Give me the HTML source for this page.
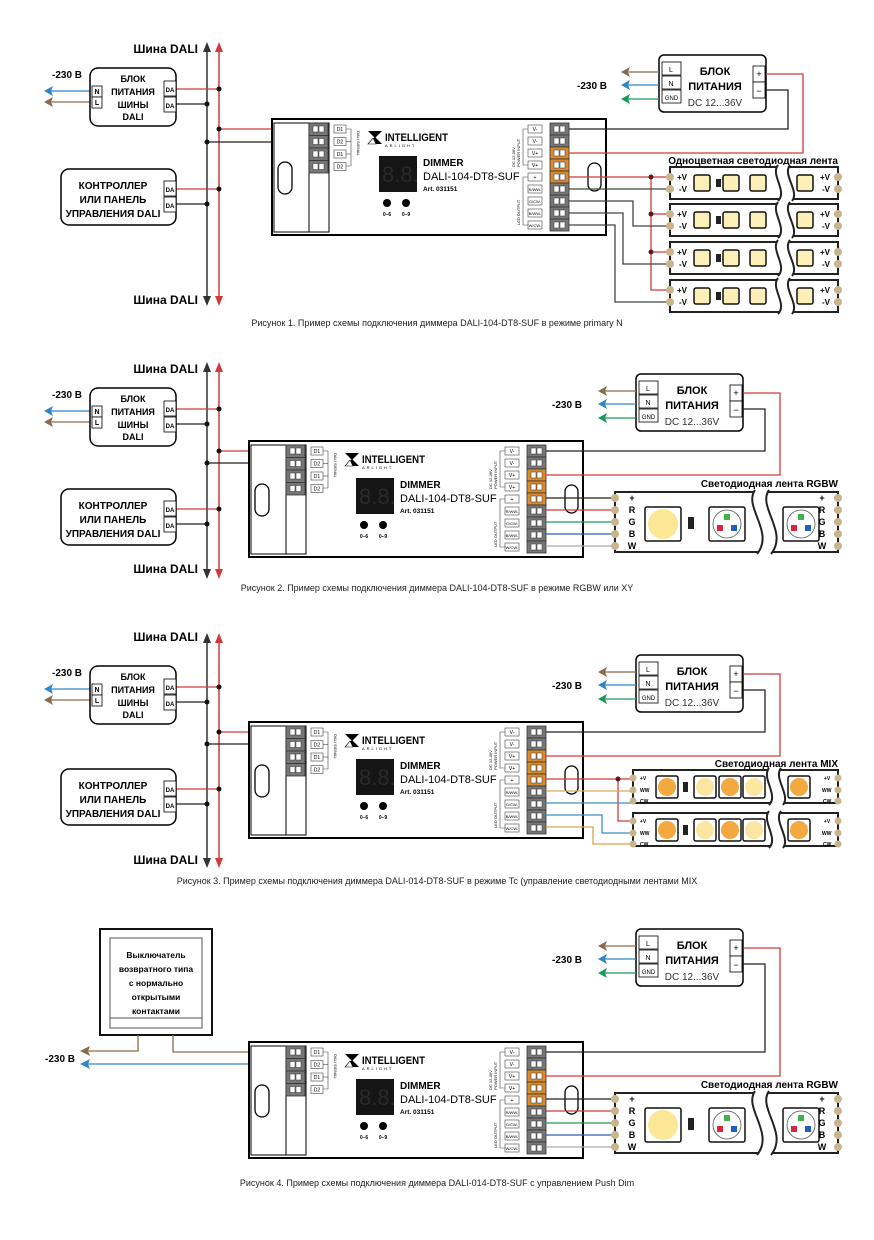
<!DOCTYPE html>
<html><head><meta charset="utf-8"><style>
html,body{margin:0;padding:0;background:#fff}
svg{display:block}
text{font-family:"Liberation Sans",sans-serif}
.b{font-weight:bold}
.t{font-size:5px}
</style></head><body>
<svg width="874" height="1240" viewBox="0 0 874 1240" xmlns="http://www.w3.org/2000/svg">
<defs>
<g id="dim">
<rect x="0" y="0" width="334" height="116" fill="#fff" stroke="#000" stroke-width="2"/>
<rect x="2" y="4" width="55" height="109" fill="none" stroke="#000" stroke-width="1"/>
<line x1="37" y1="4" x2="37" y2="113" stroke="#000"/>
<rect x="6" y="43" width="14" height="32" rx="7" fill="none" stroke="#000" stroke-width="1.3"/>
<rect x="316" y="44" width="13" height="28" rx="6.5" fill="none" stroke="#000" stroke-width="1.3"/>
<g fill="#777" stroke="#333" stroke-width="0.8">
<rect x="37" y="4" width="19" height="12.5"/><rect x="37" y="16.5" width="19" height="12.5"/><rect x="37" y="29" width="19" height="12.5"/><rect x="37" y="41.5" width="19" height="12.5"/>
</g>
<g fill="#fff" stroke="#333" stroke-width="0.5">
<rect x="41" y="7" width="5" height="6"/><rect x="47" y="7" width="5" height="6"/>
<rect x="41" y="19.5" width="5" height="6"/><rect x="47" y="19.5" width="5" height="6"/>
<rect x="41" y="32" width="5" height="6"/><rect x="47" y="32" width="5" height="6"/>
<rect x="41" y="44.5" width="5" height="6"/><rect x="47" y="44.5" width="5" height="6"/>
</g>
<g fill="#fff" stroke="#444" stroke-width="0.6">
<rect x="62" y="6" width="12" height="8"/><rect x="62" y="18.5" width="12" height="8"/><rect x="62" y="31" width="12" height="8"/><rect x="62" y="43.5" width="12" height="8"/>
</g>
<polyline points="74,10 79,10 79,47 74,47" fill="none" stroke="#444" stroke-width="0.6"/>
<line x1="74" y1="22.5" x2="79" y2="22.5" stroke="#444" stroke-width="0.6"/>
<line x1="74" y1="35" x2="79" y2="35" stroke="#444" stroke-width="0.6"/>
<polygon points="96,12 110,12 103,19" fill="#000"/>
<polygon points="96,25 110,25 103,18" fill="#000"/>
<polygon points="96,25 101,19 104,25" fill="#fff" stroke="#000" stroke-width="0.6"/>
<rect x="107" y="37" width="38" height="36" fill="#151515"/>
<circle cx="115" cy="84" r="4" fill="#000"/><circle cx="134" cy="84" r="4" fill="#000"/>
<g stroke="#333" stroke-width="0.8">
<rect x="278" y="4" width="19" height="12" fill="#777"/><rect x="278" y="16" width="19" height="12" fill="#777"/>
<rect x="278" y="28" width="19" height="12" fill="#d98b2e"/><rect x="278" y="40" width="19" height="12" fill="#d98b2e"/><rect x="278" y="52" width="19" height="12" fill="#d98b2e"/>
<rect x="278" y="64" width="19" height="12" fill="#777"/><rect x="278" y="76" width="19" height="12" fill="#777"/><rect x="278" y="88" width="19" height="12" fill="#777"/><rect x="278" y="100" width="19" height="12" fill="#777"/>
</g>
<g fill="#fff" stroke="#333" stroke-width="0.5">
<rect x="282" y="7" width="5" height="6"/><rect x="288" y="7" width="5" height="6"/>
<rect x="282" y="19" width="5" height="6"/><rect x="288" y="19" width="5" height="6"/>
<rect x="282" y="31" width="5" height="6"/><rect x="288" y="31" width="5" height="6"/>
<rect x="282" y="43" width="5" height="6"/><rect x="288" y="43" width="5" height="6"/>
<rect x="282" y="55" width="5" height="6"/><rect x="288" y="55" width="5" height="6"/>
<rect x="282" y="67" width="5" height="6"/><rect x="288" y="67" width="5" height="6"/>
<rect x="282" y="79" width="5" height="6"/><rect x="288" y="79" width="5" height="6"/>
<rect x="282" y="91" width="5" height="6"/><rect x="288" y="91" width="5" height="6"/>
<rect x="282" y="103" width="5" height="6"/><rect x="288" y="103" width="5" height="6"/>
</g>
<g fill="#fff" stroke="#444" stroke-width="0.6">
<rect x="256" y="6" width="14" height="8"/><rect x="256" y="18" width="14" height="8"/><rect x="256" y="30" width="14" height="8"/><rect x="256" y="42" width="14" height="8"/>
<rect x="256" y="54" width="14" height="8"/><rect x="256" y="66" width="14" height="8"/><rect x="256" y="78" width="14" height="8"/><rect x="256" y="90" width="14" height="8"/><rect x="256" y="102" width="14" height="8"/>
</g>
<polyline points="256,10 251,10 251,46 256,46" fill="none" stroke="#444" stroke-width="0.6"/>
<polyline points="256,58 251,58 251,106 256,106" fill="none" stroke="#444" stroke-width="0.6"/>
</g>
<g id="psu">
<rect x="0" y="0" width="107" height="57" rx="5" fill="#fff" stroke="#000" stroke-width="1.5"/>
<g fill="#fff" stroke="#000" stroke-width="0.8">
<rect x="3" y="7" width="19" height="13"/><rect x="3" y="21" width="19" height="13"/><rect x="3" y="35" width="19" height="13"/>
<rect x="94" y="11" width="12" height="16"/><rect x="94" y="27" width="12" height="16"/>
</g>
</g>
<g id="busbox">
<rect x="0" y="0" width="86" height="58" rx="8" fill="#fff" stroke="#000" stroke-width="1.5"/>
<g fill="#fff" stroke="#000" stroke-width="0.8">
<rect x="2" y="18" width="10" height="11"/><rect x="2" y="29" width="10" height="11"/>
<rect x="74" y="13" width="12" height="15"/><rect x="74" y="29" width="12" height="15"/>
</g>
</g>
<g id="ctrl">
<rect x="0" y="0" width="115" height="56" rx="8" fill="#fff" stroke="#000" stroke-width="1.5"/>
<g fill="#fff" stroke="#000" stroke-width="0.8">
<rect x="103" y="12" width="12" height="15"/><rect x="103" y="28" width="12" height="15"/>
</g>
</g>
<g id="mono">
<rect x="0" y="0" width="168" height="32" fill="#fff" stroke="#222" stroke-width="2"/>
<circle cx="0" cy="10" r="4" fill="#c9b48e"/><circle cx="0" cy="22" r="4" fill="#c9b48e"/>
<circle cx="168" cy="10" r="4" fill="#c9b48e"/><circle cx="168" cy="22" r="4" fill="#c9b48e"/>
<g fill="#fcefb8" stroke="#111" stroke-width="1.5">
<rect x="24" y="8" width="16" height="16" rx="2"/><rect x="53" y="8" width="16" height="16" rx="2"/><rect x="80" y="8" width="16" height="16" rx="2"/><rect x="127" y="8" width="16" height="16" rx="2"/>
</g>
<rect x="46" y="12" width="5" height="8" fill="#222"/>
<path d="M108,-2 C100,8 118,24 108,34 L122,34 C130,24 112,8 120,-2 Z" fill="#fff"/>
<path d="M108,-2 C100,8 118,24 108,34 M120,-2 C112,8 130,24 122,34" fill="none" stroke="#222" stroke-width="2"/>
</g>
<g id="mix">
<rect x="0" y="0" width="205" height="33" fill="#fff" stroke="#222" stroke-width="2"/>
<circle cx="0" cy="8" r="3.5" fill="#c9b48e"/><circle cx="0" cy="20" r="3.5" fill="#c9b48e"/><circle cx="0" cy="31" r="3.5" fill="#c9b48e"/>
<circle cx="205" cy="8" r="3.5" fill="#c9b48e"/><circle cx="205" cy="20" r="3.5" fill="#c9b48e"/><circle cx="205" cy="31" r="3.5" fill="#c9b48e"/>
<g fill="#fff" stroke="#111" stroke-width="1.5">
<rect x="23" y="6" width="22" height="22" rx="2"/><rect x="61" y="6" width="22" height="22" rx="2"/><rect x="86" y="6" width="22" height="22" rx="2"/><rect x="110" y="6" width="22" height="22" rx="2"/><rect x="155" y="6" width="22" height="22" rx="2"/>
</g>
<circle cx="34" cy="17" r="9" fill="#f4a940"/><circle cx="72" cy="17" r="9" fill="#fbe7a2"/><circle cx="97" cy="17" r="9" fill="#f4a940"/><circle cx="121" cy="17" r="9" fill="#fbe7a2"/><circle cx="166" cy="17" r="9" fill="#f4a940"/>
<rect x="50" y="12" width="5" height="10" fill="#222"/>
<path d="M136,-2 C128,8 146,25 136,35 L150,35 C158,25 140,8 148,-2 Z" fill="#fff"/>
<path d="M136,-2 C128,8 146,25 136,35 M148,-2 C140,8 158,25 150,35" fill="none" stroke="#222" stroke-width="2"/>
</g>
<g id="rgbw">
<rect x="0" y="0" width="223" height="60" fill="#fff" stroke="#222" stroke-width="2"/>
<g fill="#c9b48e"><circle cx="0" cy="6" r="4"/><circle cx="0" cy="18" r="4"/><circle cx="0" cy="30" r="4"/><circle cx="0" cy="42" r="4"/><circle cx="0" cy="54" r="4"/>
<circle cx="223" cy="6" r="4"/><circle cx="223" cy="18" r="4"/><circle cx="223" cy="30" r="4"/><circle cx="223" cy="42" r="4"/><circle cx="223" cy="54" r="4"/></g>
<g fill="#fff" stroke="#111" stroke-width="1.5">
<rect x="30" y="15" width="36" height="34" rx="2"/><rect x="94" y="15" width="36" height="34" rx="2"/><rect x="168" y="15" width="36" height="34" rx="2"/>
</g>
<circle cx="48" cy="32" r="15" fill="#fbe796"/>
<circle cx="112" cy="32" r="14" fill="#fff" stroke="#555" stroke-width="0.8"/>
<circle cx="186" cy="32" r="14" fill="#fff" stroke="#555" stroke-width="0.8"/>
<rect x="109" y="22" width="6" height="6" fill="#3cb44b"/><rect x="102" y="33" width="6" height="6" fill="#d7263d"/><rect x="116" y="33" width="6" height="6" fill="#1f5fbf"/>
<rect x="183" y="22" width="6" height="6" fill="#3cb44b"/><rect x="176" y="33" width="6" height="6" fill="#d7263d"/><rect x="190" y="33" width="6" height="6" fill="#1f5fbf"/>
<rect x="73" y="25" width="6" height="12" fill="#222"/>
<path d="M140,-2 C128,15 160,40 142,62 L156,62 C174,40 142,15 154,-2 Z" fill="#fff"/>
<path d="M140,-2 C128,15 160,40 142,62 M154,-2 C142,15 174,40 156,62" fill="none" stroke="#222" stroke-width="2"/>
</g>
</defs>

<!-- ============ FIGURE 1 ============ -->
<g stroke-width="1.5" fill="none">
<line x1="207" y1="46" x2="207" y2="302" stroke="#333"/>
<line x1="219" y1="46" x2="219" y2="302" stroke="#d23a3a"/>
</g>
<polygon points="207,42 203,52 211,52" fill="#333"/><polygon points="207,306 203,296 211,296" fill="#333"/>
<polygon points="219,42 215,52 223,52" fill="#d23a3a"/><polygon points="219,306 215,296 223,296" fill="#d23a3a"/>
<text x="198" y="53" text-anchor="end" class="b" font-size="12">Шина DALI</text>
<text x="198" y="304" text-anchor="end" class="b" font-size="12">Шина DALI</text>

<g fill="none" stroke-width="1.3">
<polyline points="176,89 219,89" stroke="#d23a3a"/><polyline points="176,104 207,104" stroke="#222"/>
<polyline points="176,189 219,189" stroke="#d23a3a"/><polyline points="176,204 207,204" stroke="#222"/>
<polyline points="219,129 309,129" stroke="#d23a3a"/><polyline points="207,142 309,142" stroke="#222"/>
<line x1="48" y1="91" x2="92" y2="91" stroke="#2e86c8"/><line x1="48" y1="102" x2="92" y2="102" stroke="#8a6a4a"/>
</g>
<polygon points="44,91 53,86 51,91 53,96" fill="#2e86c8"/><polygon points="44,102 53,97 51,102 53,107" fill="#8a6a4a"/>
<g fill="#111"><circle cx="219" cy="89" r="2.5"/><circle cx="207" cy="104" r="2.5"/><circle cx="219" cy="189" r="2.5"/><circle cx="207" cy="204" r="2.5"/><circle cx="219" cy="129" r="2.5"/><circle cx="207" cy="142" r="2.5"/></g>
<text x="52" y="78" class="b" font-size="10">-230 В</text>

<use href="#busbox" x="90" y="68"/>
<g transform="translate(90,68)" class="b" font-size="9" text-anchor="middle">
<text x="43" y="14">БЛОК</text><text x="43" y="27">ПИТАНИЯ</text><text x="43" y="40">ШИНЫ</text><text x="43" y="52">DALI</text>
<text x="7" y="26" font-size="7">N</text><text x="7" y="37" font-size="7">L</text>
<text x="80" y="24" font-size="6">DA</text><text x="80" y="40" font-size="6">DA</text>
</g>
<use href="#ctrl" x="61" y="169"/>
<g transform="translate(61,169)" class="b" font-size="10" text-anchor="middle">
<text x="52" y="20">КОНТРОЛЛЕР</text><text x="52" y="34">ИЛИ ПАНЕЛЬ</text><text x="52" y="48">УПРАВЛЕНИЯ DALI</text>
<text x="109" y="23" font-size="6">DA</text><text x="109" y="39" font-size="6">DA</text>
</g>

<!-- dimmer 1 -->
<use href="#dim" x="272" y="119"/>
<g transform="translate(272,119)">
<g font-size="5" text-anchor="middle"><text x="68" y="12">D1</text><text x="68" y="24.5">D2</text><text x="68" y="37">D1</text><text x="68" y="49.5">D2</text>
<text x="263" y="12">V-</text><text x="263" y="24">V-</text><text x="263" y="36">V+</text><text x="263" y="48">V+</text><text x="263" y="60">+</text><text x="263" y="72" font-size="4">R/WW-</text><text x="263" y="84" font-size="4">G/CW-</text><text x="263" y="96" font-size="4">B/WW-</text><text x="263" y="108" font-size="4">W/CW-</text></g>
<text transform="translate(85,12) rotate(90)" font-size="4">DALI SIGNAL</text>
<text transform="translate(243,48) rotate(-90)" font-size="4">DC 12-36V</text>
<text transform="translate(248,48) rotate(-90)" font-size="4">POWER INPUT</text>
<text transform="translate(248,106) rotate(-90)" font-size="4">LED OUTPUT</text>
<text x="113" y="22" class="b" font-size="11" textLength="63" lengthAdjust="spacingAndGlyphs">INTELLIGENT</text>
<text x="113" y="28" font-size="4" letter-spacing="2">ARLIGHT</text>
<text x="110" y="63" font-size="22" fill="#2a2a2a" font-family="Liberation Mono">8.8.</text>
<text x="151" y="47" class="b" font-size="10">DIMMER</text>
<text x="151" y="61" font-size="11">DALI-104-DT8-SUF</text>
<text x="151" y="72" class="b" font-size="6.5">Art. 031151</text>
<text x="115" y="97" font-size="5" text-anchor="middle" class="b">0–6</text><text x="134" y="97" font-size="5" text-anchor="middle" class="b">0–9</text>
</g>

<!-- PSU 1 -->
<use href="#psu" x="659" y="55"/>
<g transform="translate(659,55)">
<g class="b" font-size="11" text-anchor="middle"><text x="56" y="20">БЛОК</text><text x="56" y="35">ПИТАНИЯ</text></g>
<text x="56" y="51" font-size="10" text-anchor="middle" fill="#333">DC 12...36V</text>
<g font-size="7" text-anchor="middle"><text x="12" y="17">L</text><text x="12" y="31">N</text><text x="12.5" y="45" font-size="6">GND</text><text x="100" y="22" font-size="9">+</text><text x="100" y="39" font-size="9">−</text></g>
</g>
<g stroke-width="1.3"><line x1="626" y1="72" x2="659" y2="72" stroke="#8a6a4a"/><line x1="626" y1="85" x2="659" y2="85" stroke="#2e86c8"/><line x1="626" y1="99" x2="659" y2="99" stroke="#1a9a5a"/></g>
<polygon points="621,72 630,67 628,72 630,77" fill="#8a6a4a"/><polygon points="621,85 630,80 628,85 630,90" fill="#2e86c8"/><polygon points="621,99 630,94 628,99 630,104" fill="#1a9a5a"/>
<text x="577" y="89" class="b" font-size="10">-230 В</text>
<g fill="none" stroke-width="1.3">
<polyline points="766,90 788,90 788,129 569,129" stroke="#222"/>
<polyline points="766,74 803,74 803,153 569,153" stroke="#d23a3a"/>
<polyline points="569,177 670,177" stroke="#d23a3a"/>
<polyline points="651,177 651,290 670,290" stroke="#d23a3a"/>
<polyline points="651,214 670,214" stroke="#d23a3a"/><polyline points="651,252 670,252" stroke="#d23a3a"/>
<polyline points="569,189 670,189" stroke="#444"/>
<polyline points="569,201 633,201 633,226 670,226" stroke="#444"/>
<polyline points="569,213 623,213 623,264 670,264" stroke="#444"/>
<polyline points="569,225 615,225 615,302 670,302" stroke="#444"/>
</g>
<g fill="#5a1a1a"><circle cx="651" cy="177" r="2.5"/><circle cx="651" cy="214" r="2.5"/><circle cx="651" cy="252" r="2.5"/></g>
<text x="838" y="164" text-anchor="end" class="b" font-size="10">Одноцветная светодиодная лента</text>
<use href="#mono" x="670" y="167"/><use href="#mono" x="670" y="204"/><use href="#mono" x="670" y="242"/><use href="#mono" x="670" y="280"/>
<g class="b" font-size="8">
<text x="677" y="180">+V</text><text x="679" y="192">-V</text><text x="820" y="180">+V</text><text x="822" y="192">-V</text>
<text x="677" y="217">+V</text><text x="679" y="229">-V</text><text x="820" y="217">+V</text><text x="822" y="229">-V</text>
<text x="677" y="255">+V</text><text x="679" y="267">-V</text><text x="820" y="255">+V</text><text x="822" y="267">-V</text>
<text x="677" y="293">+V</text><text x="679" y="305">-V</text><text x="820" y="293">+V</text><text x="822" y="305">-V</text>
</g>
<text x="437" y="326" text-anchor="middle" font-size="9" fill="#222">Рисунок 1. Пример схемы подключения диммера DALI-104-DT8-SUF в режиме primary N</text>

<!-- ============ FIGURE 2 ============ -->
<g stroke-width="1.5"><line x1="207" y1="366" x2="207" y2="575" stroke="#333"/><line x1="219" y1="366" x2="219" y2="575" stroke="#d23a3a"/></g>
<polygon points="207,362 203,372 211,372" fill="#333"/><polygon points="207,579 203,569 211,569" fill="#333"/>
<polygon points="219,362 215,372 223,372" fill="#d23a3a"/><polygon points="219,579 215,569 223,569" fill="#d23a3a"/>
<text x="198" y="373" text-anchor="end" class="b" font-size="12">Шина DALI</text>
<text x="198" y="573" text-anchor="end" class="b" font-size="12">Шина DALI</text>
<g fill="none" stroke-width="1.3">
<polyline points="176,409 219,409" stroke="#d23a3a"/><polyline points="176,424 207,424" stroke="#222"/>
<polyline points="176,509 219,509" stroke="#d23a3a"/><polyline points="176,524 207,524" stroke="#222"/>
<polyline points="219,451 286,451" stroke="#d23a3a"/><polyline points="207,463 286,463" stroke="#222"/>
<line x1="48" y1="411" x2="92" y2="411" stroke="#2e86c8"/><line x1="48" y1="422" x2="92" y2="422" stroke="#8a6a4a"/>
</g>
<polygon points="44,411 53,406 51,411 53,416" fill="#2e86c8"/><polygon points="44,422 53,417 51,422 53,427" fill="#8a6a4a"/>
<g fill="#111"><circle cx="219" cy="409" r="2.5"/><circle cx="207" cy="424" r="2.5"/><circle cx="219" cy="509" r="2.5"/><circle cx="207" cy="524" r="2.5"/><circle cx="219" cy="451" r="2.5"/><circle cx="207" cy="463" r="2.5"/></g>
<text x="52" y="398" class="b" font-size="10">-230 В</text>
<use href="#busbox" x="90" y="388"/>
<g transform="translate(90,388)" class="b" font-size="9" text-anchor="middle">
<text x="43" y="14">БЛОК</text><text x="43" y="27">ПИТАНИЯ</text><text x="43" y="40">ШИНЫ</text><text x="43" y="52">DALI</text>
<text x="7" y="26" font-size="7">N</text><text x="7" y="37" font-size="7">L</text>
<text x="80" y="24" font-size="6">DA</text><text x="80" y="40" font-size="6">DA</text>
</g>
<use href="#ctrl" x="61" y="489"/>
<g transform="translate(61,489)" class="b" font-size="10" text-anchor="middle">
<text x="52" y="20">КОНТРОЛЛЕР</text><text x="52" y="34">ИЛИ ПАНЕЛЬ</text><text x="52" y="48">УПРАВЛЕНИЯ DALI</text>
<text x="109" y="23" font-size="6">DA</text><text x="109" y="39" font-size="6">DA</text>
</g>
<use href="#dim" x="249" y="441"/>
<g transform="translate(249,441)">
<g font-size="5" text-anchor="middle"><text x="68" y="12">D1</text><text x="68" y="24.5">D2</text><text x="68" y="37">D1</text><text x="68" y="49.5">D2</text>
<text x="263" y="12">V-</text><text x="263" y="24">V-</text><text x="263" y="36">V+</text><text x="263" y="48">V+</text><text x="263" y="60">+</text><text x="263" y="72" font-size="4">R/WW-</text><text x="263" y="84" font-size="4">G/CW-</text><text x="263" y="96" font-size="4">B/WW-</text><text x="263" y="108" font-size="4">W/CW-</text></g>
<text transform="translate(85,12) rotate(90)" font-size="4">DALI SIGNAL</text>
<text transform="translate(243,48) rotate(-90)" font-size="4">DC 12-36V</text>
<text transform="translate(248,48) rotate(-90)" font-size="4">POWER INPUT</text>
<text transform="translate(248,106) rotate(-90)" font-size="4">LED OUTPUT</text>
<text x="113" y="22" class="b" font-size="11" textLength="63" lengthAdjust="spacingAndGlyphs">INTELLIGENT</text>
<text x="113" y="28" font-size="4" letter-spacing="2">ARLIGHT</text>
<text x="110" y="63" font-size="22" fill="#2a2a2a" font-family="Liberation Mono">8.8.</text>
<text x="151" y="47" class="b" font-size="10">DIMMER</text>
<text x="151" y="61" font-size="11">DALI-104-DT8-SUF</text>
<text x="151" y="72" class="b" font-size="6.5">Art. 031151</text>
<text x="115" y="97" font-size="5" text-anchor="middle" class="b">0–6</text><text x="134" y="97" font-size="5" text-anchor="middle" class="b">0–9</text>
</g>
<use href="#psu" x="636" y="374"/>
<g transform="translate(636,374)">
<g class="b" font-size="11" text-anchor="middle"><text x="56" y="20">БЛОК</text><text x="56" y="35">ПИТАНИЯ</text></g>
<text x="56" y="51" font-size="10" text-anchor="middle" fill="#333">DC 12...36V</text>
<g font-size="7" text-anchor="middle"><text x="12" y="17">L</text><text x="12" y="31">N</text><text x="12.5" y="45" font-size="6">GND</text><text x="100" y="22" font-size="9">+</text><text x="100" y="39" font-size="9">−</text></g>
</g>
<g stroke-width="1.3"><line x1="603" y1="391" x2="636" y2="391" stroke="#8a6a4a"/><line x1="603" y1="404" x2="636" y2="404" stroke="#2e86c8"/><line x1="603" y1="418" x2="636" y2="418" stroke="#1a9a5a"/></g>
<polygon points="598,391 607,386 605,391 607,396" fill="#8a6a4a"/><polygon points="598,404 607,399 605,404 607,409" fill="#2e86c8"/><polygon points="598,418 607,413 605,418 607,423" fill="#1a9a5a"/>
<text x="552" y="408" class="b" font-size="10">-230 В</text>
<g fill="none" stroke-width="1.3">
<polyline points="743,409 765,409 765,451 546,451" stroke="#222"/>
<polyline points="743,393 780,393 780,475 546,475" stroke="#d23a3a"/>
<line x1="546" y1="498" x2="615" y2="498" stroke="#222"/>
<line x1="546" y1="510" x2="615" y2="510" stroke="#d23a3a"/>
<line x1="546" y1="522" x2="615" y2="522" stroke="#1a9a5a"/>
<line x1="546" y1="534" x2="615" y2="534" stroke="#2e5fb0"/>
<line x1="546" y1="546" x2="615" y2="546" stroke="#aaa"/>
</g>
<text x="838" y="487" text-anchor="end" class="b" font-size="10">Светодиодная лента RGBW</text>
<use href="#rgbw" x="615" y="492"/>
<g class="b" font-size="9" text-anchor="middle"><text x="632" y="501">+</text><text x="632" y="513">R</text><text x="632" y="525">G</text><text x="632" y="537">B</text><text x="632" y="549">W</text>
<text x="822" y="501">+</text><text x="822" y="513">R</text><text x="822" y="525">G</text><text x="822" y="537">B</text><text x="822" y="549">W</text></g>
<text x="437" y="591" text-anchor="middle" font-size="9" fill="#222">Рисунок 2. Пример схемы подключения диммера DALI-104-DT8-SUF в режиме RGBW или XY</text>

<!-- ============ FIGURE 3 ============ -->
<g stroke-width="1.5"><line x1="207" y1="637" x2="207" y2="864" stroke="#333"/><line x1="219" y1="637" x2="219" y2="864" stroke="#d23a3a"/></g>
<polygon points="207,633 203,643 211,643" fill="#333"/><polygon points="207,868 203,858 211,858" fill="#333"/>
<polygon points="219,633 215,643 223,643" fill="#d23a3a"/><polygon points="219,868 215,858 223,858" fill="#d23a3a"/>
<text x="198" y="641" text-anchor="end" class="b" font-size="12">Шина DALI</text>
<text x="198" y="864" text-anchor="end" class="b" font-size="12">Шина DALI</text>
<g fill="none" stroke-width="1.3">
<polyline points="176,687 219,687" stroke="#d23a3a"/><polyline points="176,702 207,702" stroke="#222"/>
<polyline points="176,789 219,789" stroke="#d23a3a"/><polyline points="176,804 207,804" stroke="#222"/>
<polyline points="219,732 286,732" stroke="#d23a3a"/><polyline points="207,744 286,744" stroke="#222"/>
<line x1="48" y1="689" x2="92" y2="689" stroke="#2e86c8"/><line x1="48" y1="700" x2="92" y2="700" stroke="#8a6a4a"/>
</g>
<polygon points="44,689 53,684 51,689 53,694" fill="#2e86c8"/><polygon points="44,700 53,695 51,700 53,705" fill="#8a6a4a"/>
<g fill="#111"><circle cx="219" cy="687" r="2.5"/><circle cx="207" cy="702" r="2.5"/><circle cx="219" cy="789" r="2.5"/><circle cx="207" cy="804" r="2.5"/><circle cx="219" cy="732" r="2.5"/><circle cx="207" cy="744" r="2.5"/></g>
<text x="52" y="676" class="b" font-size="10">-230 В</text>
<use href="#busbox" x="90" y="666"/>
<g transform="translate(90,666)" class="b" font-size="9" text-anchor="middle">
<text x="43" y="14">БЛОК</text><text x="43" y="27">ПИТАНИЯ</text><text x="43" y="40">ШИНЫ</text><text x="43" y="52">DALI</text>
<text x="7" y="26" font-size="7">N</text><text x="7" y="37" font-size="7">L</text>
<text x="80" y="24" font-size="6">DA</text><text x="80" y="40" font-size="6">DA</text>
</g>
<use href="#ctrl" x="61" y="769"/>
<g transform="translate(61,769)" class="b" font-size="10" text-anchor="middle">
<text x="52" y="20">КОНТРОЛЛЕР</text><text x="52" y="34">ИЛИ ПАНЕЛЬ</text><text x="52" y="48">УПРАВЛЕНИЯ DALI</text>
<text x="109" y="23" font-size="6">DA</text><text x="109" y="39" font-size="6">DA</text>
</g>
<use href="#dim" x="249" y="722"/>
<g transform="translate(249,722)">
<g font-size="5" text-anchor="middle"><text x="68" y="12">D1</text><text x="68" y="24.5">D2</text><text x="68" y="37">D1</text><text x="68" y="49.5">D2</text>
<text x="263" y="12">V-</text><text x="263" y="24">V-</text><text x="263" y="36">V+</text><text x="263" y="48">V+</text><text x="263" y="60">+</text><text x="263" y="72" font-size="4">R/WW-</text><text x="263" y="84" font-size="4">G/CW-</text><text x="263" y="96" font-size="4">B/WW-</text><text x="263" y="108" font-size="4">W/CW-</text></g>
<text transform="translate(85,12) rotate(90)" font-size="4">DALI SIGNAL</text>
<text transform="translate(243,48) rotate(-90)" font-size="4">DC 12-36V</text>
<text transform="translate(248,48) rotate(-90)" font-size="4">POWER INPUT</text>
<text transform="translate(248,106) rotate(-90)" font-size="4">LED OUTPUT</text>
<text x="113" y="22" class="b" font-size="11" textLength="63" lengthAdjust="spacingAndGlyphs">INTELLIGENT</text>
<text x="113" y="28" font-size="4" letter-spacing="2">ARLIGHT</text>
<text x="110" y="63" font-size="22" fill="#2a2a2a" font-family="Liberation Mono">8.8.</text>
<text x="151" y="47" class="b" font-size="10">DIMMER</text>
<text x="151" y="61" font-size="11">DALI-104-DT8-SUF</text>
<text x="151" y="72" class="b" font-size="6.5">Art. 031151</text>
<text x="115" y="97" font-size="5" text-anchor="middle" class="b">0–6</text><text x="134" y="97" font-size="5" text-anchor="middle" class="b">0–9</text>
</g>
<use href="#psu" x="636" y="655"/>
<g transform="translate(636,655)">
<g class="b" font-size="11" text-anchor="middle"><text x="56" y="20">БЛОК</text><text x="56" y="35">ПИТАНИЯ</text></g>
<text x="56" y="51" font-size="10" text-anchor="middle" fill="#333">DC 12...36V</text>
<g font-size="7" text-anchor="middle"><text x="12" y="17">L</text><text x="12" y="31">N</text><text x="12.5" y="45" font-size="6">GND</text><text x="100" y="22" font-size="9">+</text><text x="100" y="39" font-size="9">−</text></g>
</g>
<g stroke-width="1.3"><line x1="603" y1="672" x2="636" y2="672" stroke="#8a6a4a"/><line x1="603" y1="685" x2="636" y2="685" stroke="#2e86c8"/><line x1="603" y1="699" x2="636" y2="699" stroke="#1a9a5a"/></g>
<polygon points="598,672 607,667 605,672 607,677" fill="#8a6a4a"/><polygon points="598,685 607,680 605,685 607,690" fill="#2e86c8"/><polygon points="598,699 607,694 605,699 607,704" fill="#1a9a5a"/>
<text x="552" y="689" class="b" font-size="10">-230 В</text>
<g fill="none" stroke-width="1.3">
<polyline points="743,690 765,690 765,732 546,732" stroke="#222"/>
<polyline points="743,674 780,674 780,756 546,756" stroke="#d23a3a"/>
<polyline points="546,779 633,779" stroke="#d23a3a"/>
<polyline points="618,779 618,821 633,821" stroke="#d23a3a"/>
<polyline points="546,791 633,791" stroke="#d9a860"/>
<polyline points="546,803 633,803" stroke="#3a8fc0"/>
<polyline points="546,815 602,815 602,833 633,833" stroke="#3a8fc0"/>
<polyline points="546,827 593,827 593,844 633,844" stroke="#e0a050"/>
</g>
<circle cx="618" cy="779" r="2.5" fill="#5a1a1a"/>
<text x="838" y="767" text-anchor="end" class="b" font-size="10">Светодиодная лента MIX</text>
<use href="#mix" x="633" y="770"/><use href="#mix" x="633" y="813"/>
<g font-size="5" class="b">
<text x="640" y="780">+V</text><text x="640" y="792">WW</text><text x="640" y="803">CW</text>
<text x="824" y="780">+V</text><text x="822" y="792">WW</text><text x="823" y="803">CW</text>
<text x="640" y="823">+V</text><text x="640" y="835">WW</text><text x="640" y="846">CW</text>
<text x="824" y="823">+V</text><text x="822" y="835">WW</text><text x="823" y="846">CW</text>
</g>
<text x="437" y="884" text-anchor="middle" font-size="9" fill="#222">Рисунок 3. Пример схемы подключения диммера DALI-014-DT8-SUF в режиме Tc (управление светодиодными лентами MIX</text>

<!-- ============ FIGURE 4 ============ -->
<rect x="100" y="929" width="112" height="106" fill="#fff" stroke="#111" stroke-width="2"/>
<rect x="110" y="938" width="92" height="90" fill="#fff" stroke="#555" stroke-width="1"/>
<line x1="110" y1="1018" x2="202" y2="1018" stroke="#555"/>
<g class="b" font-size="8.5" text-anchor="middle">
<text x="156" y="958">Выключатель</text><text x="156" y="972">возвратного типа</text><text x="156" y="986">с нормально</text><text x="156" y="1000">открытыми</text><text x="156" y="1014">контактами</text>
</g>
<g fill="none" stroke-width="1.3">
<polyline points="138,1035 138,1051 86,1051" stroke="#8a6a4a"/>
<polyline points="173,1035 173,1052 286,1052" stroke="#8a6a4a"/>
<polyline points="86,1064 286,1064" stroke="#2e86c8"/>
</g>
<polygon points="80,1051 90,1046 88,1051 90,1056" fill="#8a6a4a"/><polygon points="80,1064 90,1059 88,1064 90,1069" fill="#2e86c8"/>
<text x="45" y="1062" class="b" font-size="10">-230 В</text>
<use href="#dim" x="249" y="1042"/>
<g transform="translate(249,1042)">
<g font-size="5" text-anchor="middle"><text x="68" y="12">D1</text><text x="68" y="24.5">D2</text><text x="68" y="37">D1</text><text x="68" y="49.5">D2</text>
<text x="263" y="12">V-</text><text x="263" y="24">V-</text><text x="263" y="36">V+</text><text x="263" y="48">V+</text><text x="263" y="60">+</text><text x="263" y="72" font-size="4">R/WW-</text><text x="263" y="84" font-size="4">G/CW-</text><text x="263" y="96" font-size="4">B/WW-</text><text x="263" y="108" font-size="4">W/CW-</text></g>
<text transform="translate(85,12) rotate(90)" font-size="4">DALI SIGNAL</text>
<text transform="translate(243,48) rotate(-90)" font-size="4">DC 12-36V</text>
<text transform="translate(248,48) rotate(-90)" font-size="4">POWER INPUT</text>
<text transform="translate(248,106) rotate(-90)" font-size="4">LED OUTPUT</text>
<text x="113" y="22" class="b" font-size="11" textLength="63" lengthAdjust="spacingAndGlyphs">INTELLIGENT</text>
<text x="113" y="28" font-size="4" letter-spacing="2">ARLIGHT</text>
<text x="110" y="63" font-size="22" fill="#2a2a2a" font-family="Liberation Mono">8.8.</text>
<text x="151" y="47" class="b" font-size="10">DIMMER</text>
<text x="151" y="61" font-size="11">DALI-104-DT8-SUF</text>
<text x="151" y="72" class="b" font-size="6.5">Art. 031151</text>
<text x="115" y="97" font-size="5" text-anchor="middle" class="b">0–6</text><text x="134" y="97" font-size="5" text-anchor="middle" class="b">0–9</text>
</g>
<use href="#psu" x="636" y="929"/>
<g transform="translate(636,929)">
<g class="b" font-size="11" text-anchor="middle"><text x="56" y="20">БЛОК</text><text x="56" y="35">ПИТАНИЯ</text></g>
<text x="56" y="51" font-size="10" text-anchor="middle" fill="#333">DC 12...36V</text>
<g font-size="7" text-anchor="middle"><text x="12" y="17">L</text><text x="12" y="31">N</text><text x="12.5" y="45" font-size="6">GND</text><text x="100" y="22" font-size="9">+</text><text x="100" y="39" font-size="9">−</text></g>
</g>
<g stroke-width="1.3"><line x1="603" y1="946" x2="636" y2="946" stroke="#8a6a4a"/><line x1="603" y1="959" x2="636" y2="959" stroke="#2e86c8"/><line x1="603" y1="973" x2="636" y2="973" stroke="#1a9a5a"/></g>
<polygon points="598,946 607,941 605,946 607,951" fill="#8a6a4a"/><polygon points="598,959 607,954 605,959 607,964" fill="#2e86c8"/><polygon points="598,973 607,968 605,973 607,978" fill="#1a9a5a"/>
<text x="552" y="963" class="b" font-size="10">-230 В</text>
<g fill="none" stroke-width="1.3">
<polyline points="743,964 765,964 765,1052 546,1052" stroke="#222"/>
<polyline points="743,948 780,948 780,1076 546,1076" stroke="#d23a3a"/>
<line x1="546" y1="1099" x2="615" y2="1099" stroke="#222"/>
<line x1="546" y1="1111" x2="615" y2="1111" stroke="#d23a3a"/>
<line x1="546" y1="1123" x2="615" y2="1123" stroke="#1a9a5a"/>
<line x1="546" y1="1135" x2="615" y2="1135" stroke="#2e5fb0"/>
<line x1="546" y1="1147" x2="615" y2="1147" stroke="#aaa"/>
</g>
<text x="838" y="1088" text-anchor="end" class="b" font-size="10">Светодиодная лента RGBW</text>
<use href="#rgbw" x="615" y="1093"/>
<g class="b" font-size="9" text-anchor="middle"><text x="632" y="1102">+</text><text x="632" y="1114">R</text><text x="632" y="1126">G</text><text x="632" y="1138">B</text><text x="632" y="1150">W</text>
<text x="822" y="1102">+</text><text x="822" y="1114">R</text><text x="822" y="1126">G</text><text x="822" y="1138">B</text><text x="822" y="1150">W</text></g>
<text x="437" y="1186" text-anchor="middle" font-size="9" fill="#222">Рисунок 4. Пример схемы подключения диммера DALI-014-DT8-SUF с управлением Push Dim</text>
</svg>
</body></html>
